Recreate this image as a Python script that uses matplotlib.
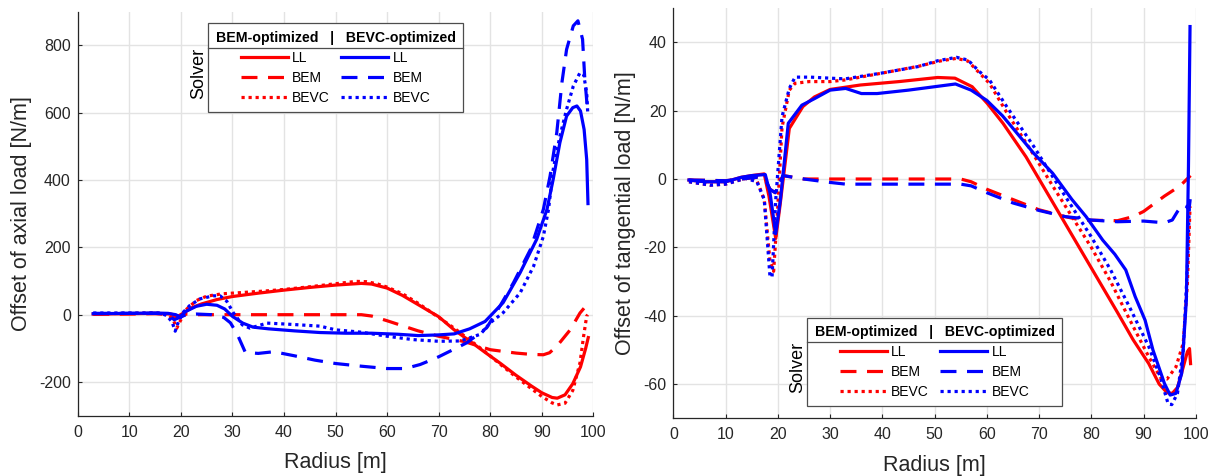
import matplotlib
matplotlib.use('Agg')
import matplotlib.pyplot as plt
from matplotlib.lines import Line2D

plt.rcParams['font.family'] = ['Liberation Sans', 'DejaVu Sans']
plt.rcParams['axes.unicode_minus'] = False

# ---- axial load offset (left panel) ----
ax_r_ll_x = [3, 10, 15, 18, 19.5, 20.5, 22, 24, 27, 30, 35, 40, 45, 50, 55, 57, 60, 63, 66, 70,
             73, 76, 79, 82, 85, 88, 90, 92, 93, 94.5, 96, 97.5, 98.5, 99]
ax_r_ll_y = [2, 3, 4, 2, -4, 5, 20, 32, 45, 54, 64, 73, 81, 88, 93, 91, 79, 57, 30, -6,
             -45, -78, -112, -145, -180, -212, -232, -246, -248, -238, -205, -155, -100, -68]

ax_r_bem_x = [3, 10, 15, 17.5, 19, 20, 21, 23, 30, 40, 50, 55, 57, 60, 63, 66, 70, 75, 80, 85,
              88, 90.3, 91.5, 93, 95.5, 97.4, 98.5, 99]
ax_r_bem_y = [1, 2, 3, 1, -8, -6, 2, 0, 0, 0, 0, 0, -4, -18, -33, -48, -64, -80, -104, -114,
              -118, -119, -113, -92, -45, 5, 25, 28]

ax_r_bevc_x = [3, 10, 15, 17.5, 18.5, 19.2, 20, 21, 23, 25, 28, 32, 36, 40, 45, 50, 54, 56, 58, 60,
               63, 66, 70, 73, 76, 79, 82, 85, 88, 90, 92, 93, 94.5, 96, 97.4, 98.1, 98.7, 98.9]
ax_r_bevc_y = [3, 4, 5, 2, -15, -40, -15, 15, 42, 55, 62, 66, 70, 75, 83, 92, 99, 98, 92, 82,
               62, 34, -8, -40, -75, -110, -148, -185, -220, -243, -262, -268, -263, -225, -143, -64, -4, 0]

ax_b_ll_x = [3, 10, 15, 17.5, 19, 19.8, 21, 23, 25, 27, 28.5, 30, 32, 34, 37, 42, 47, 52, 57, 62,
             66, 70, 73, 76, 79, 82.5, 85.8, 89, 91, 92.2, 93.5, 94.8, 96, 96.8, 97.5, 98.2, 98.7, 98.95]
ax_b_ll_y = [3, 4, 5, 4, 0, -6, 10, 25, 31, 28, 17, -5, -25, -37, -42, -48, -53, -55, -55, -58,
             -62, -60, -57, -42, -20, 36, 125, 224, 313, 402, 511, 590, 615, 620, 605, 550, 461, 330]

ax_b_bem_x = [3, 10, 15, 17.5, 18.7, 19.8, 21, 23, 26, 28.3, 29.6, 30.9, 32.5, 35, 38, 42, 46, 50, 55, 60,
              63.5, 66.4, 68, 70, 72.9, 75.5, 79.3, 81.9, 84.5, 87.8, 90.3, 91.6, 92.9, 93.9, 94.8, 96.1,
              97, 97.9, 98.3, 98.9]
ax_b_bem_y = [4, 4, 4, 2, -15, -8, 0, 2, 0, -8, -24, -57, -112, -115, -110, -122, -135, -145, -153, -160,
              -160, -148, -138, -125, -103, -83, -39, 26, 95, 194, 313, 412, 541, 690, 788, 858,
              873, 818, 709, 600]

ax_b_bevc_x = [3, 10, 16, 17.3, 18.3, 18.9, 19.5, 20.5, 21.7, 23.7, 26.3, 27.6, 28.9, 30.2, 31.9, 33.4,
               36.7, 40.6, 47, 50, 55, 60, 65, 70, 74.2, 78.1, 80, 82.5, 85.8, 88.4, 90.3, 91.3, 92.2,
               93.5, 94.8, 96.1, 97.4, 98.1, 98.7, 98.9]
ax_b_bevc_y = [5, 5, 5, -3, -22, -49, -22, 8, 27, 47, 56, 56, 40, 5, -30, -40,
               -25, -28, -34, -45, -52, -64, -74, -79, -78, -58, -24, 6, 65, 144, 233, 313, 431,
               530, 610, 679, 719, 714, 659, 600]

# ---- tangential load offset (right panel) ----
tg_r_ll_x = [3, 6, 10, 13, 15, 17.4, 18.3, 19.6, 20.4, 22.2, 24.8, 27, 30, 35.8, 43.2, 50.6, 53.9, 57.2,
             60.1, 63.1, 67.5, 70, 75, 80, 85, 88, 91, 93, 94.5, 95.5, 96.5, 97.6, 98.4, 98.8, 99]
tg_r_ll_y = [-0.3, -0.8, -0.8, 0.5, 1, 1.5, -5, -17.4, -8, 14.8, 21.2, 24, 26.2, 27.5, 28.5, 29.7, 29.5, 27,
             22.1, 16.3, 6.5, 0, -13, -26, -39, -47, -54, -60, -62.5, -62.7, -61, -55, -50.5, -49.6, -54]

tg_r_bem_x = [3, 10, 13, 16, 17.5, 18.5, 19.5, 21, 23, 25, 30, 40, 50, 55, 57, 60, 65, 70, 75, 78,
              85, 88, 90, 94, 97, 99]
tg_r_bem_y = [-0.3, -0.5, 0, 0.5, 0, -3, -4, 1, 0.5, 0, 0, 0, 0, 0, -0.8, -3, -6, -9, -11, -12,
              -12.2, -11, -9.5, -5, -2, 1]

tg_r_bevc_x = [3, 7, 10, 13.8, 16, 17.4, 18.5, 19.2, 20, 20.8, 22.2, 23.3, 26, 30, 33, 40, 47, 51, 54.2,
               56.4, 58.6, 60.5, 63.8, 69, 72.6, 76.3, 80, 83.7, 87.3, 91, 93.2, 94.5, 96.2, 97.6, 98.4, 98.9]
tg_r_bevc_y = [-0.8, -1.8, -1.5, 0.2, -0.5, -6, -24, -27, -8, 15, 26, 28, 28.5, 28.5, 29, 31, 33, 34.5, 35.3,
               34.5, 31, 28, 19.5, 7, -2, -11, -20, -30, -41, -52, -58, -58.5, -55, -48, -30.5, -8]

tg_b_ll_x = [3, 6, 10, 13, 15, 17.6, 18.5, 19.6, 20.5, 22, 24.6, 27, 30, 33, 36, 39, 45, 50, 54, 57,
             60, 63, 66, 69, 72.6, 76.3, 79, 82.2, 84.5, 86.6, 88.4, 90.3, 91.8, 94, 95.1, 96.2, 97.3,
             98.2, 98.6, 98.9]
tg_b_ll_y = [-0.3, -0.8, -0.8, 0.5, 1, 1.3, -4, -16, -6, 16.3, 21.6, 23.5, 26, 26.5, 25, 25, 26, 27, 27.8, 26,
             23, 18.5, 13, 7.5, 1.7, -6, -11, -17.9, -22, -26.6, -34.4, -41.3, -50, -59.8, -63.2, -62.7, -56.9,
             -35.4, 3.6, 44.6]

tg_b_bem_x = [3, 10, 13, 16, 17.5, 18.5, 19.5, 21, 23, 25, 30, 33, 40, 50, 55, 57, 60, 65, 70, 75,
              78, 80, 85, 90, 94, 95.5, 96.5, 97.5, 98.2, 98.7, 99]
tg_b_bem_y = [-0.3, -0.5, 0, 0.5, 0, -3, -4, 1, 0.5, 0, -1, -1.5, -1.5, -1.5, -1.5, -2, -4, -7, -9.2, -11,
              -11.5, -12, -12.5, -12.3, -12.8, -12, -9.5, -7.5, -8, -9, -5]

tg_b_bevc_x = [3, 7.1, 10, 13.8, 16, 17.4, 18.5, 18.9, 19.6, 20.8, 22.2, 23.3, 26.3, 30, 32.9, 39.5, 46.9,
               50.6, 54.2, 56.4, 58.6, 60.5, 63.8, 69, 72.6, 76.3, 80, 83.7, 87.3, 91, 93.2, 94.7, 95.4,
               96.5, 97.6, 98.4, 98.8]
tg_b_bevc_y = [-0.8, -1.8, -1.5, 0.2, -0.8, -6, -28.6, -28.6, -6, 18.2, 26.5, 29.8, 29.8, 29.5, 29.3, 30.9, 32.9,
               34.6, 35.6, 34.8, 31.4, 29, 21.2, 9.5, 0.7, -8.1, -16.9, -26.6, -37.4, -49, -57.9, -65.7, -66,
               -62.7, -50, -25.7, -6]

solver_names = ['LL', 'BEM', 'BEVC']
legend_title = 'BEM-optimized   |   BEVC-optimized'

LW = 2.3
styles = {'LL': dict(ls='-'),
          'BEM': dict(ls=(0, (5, 3.3))),
          'BEVC': dict(ls=(0, (1, 1.2)))}
DARK = '0.15'
LEG_FS = 10
LEG_LS = 0.43


def panel(ax, series, ylim, yticks, ylabel):
    for color, name, x, y in series:
        ax.plot(x, y, color=color, lw=LW, **styles[name])
    ax.set_xlim(0, 100)
    ax.set_ylim(*ylim)
    ax.set_xticks(range(0, 101, 10))
    ax.set_yticks(yticks)
    ax.grid(True, color='#e3e3e3', lw=1.0)
    ax.set_axisbelow(True)
    for s in ['top', 'right']:
        ax.spines[s].set_visible(False)
    for s in ['left', 'bottom']:
        ax.spines[s].set_color(DARK)
        ax.spines[s].set_linewidth(0.9)
    ax.tick_params(direction='in', length=3, width=0.8, colors=DARK, labelsize=11.5)
    ax.tick_params(axis='x', pad=6.5)
    ax.tick_params(axis='y', pad=5)
    ax.set_xlabel('Radius [m]', fontsize=15.5, color=DARK, labelpad=9)
    ax.set_ylabel(ylabel, fontsize=15.5, color=DARK, labelpad=5)


def table_legend(ax, loc, anchor):
    handles = []
    for color in ['red', 'blue']:
        for name in solver_names:
            handles.append(Line2D([], [], color=color, lw=LW, **styles[name]))
    labels = solver_names * 2
    leg = ax.legend(handles, labels, ncol=2, title=legend_title, loc=loc,
                    bbox_to_anchor=anchor, borderaxespad=0, fontsize=LEG_FS,
                    title_fontsize=10.2, handlelength=3.4, handletextpad=0.3,
                    columnspacing=0.8, labelspacing=LEG_LS, borderpad=0.52,
                    fancybox=False, framealpha=1, edgecolor='0.3')
    leg.get_title().set_fontweight('bold')
    leg.get_frame().set_linewidth(0.9)
    return leg


fig = plt.figure(figsize=(12.13, 4.76), dpi=100)
ax1 = fig.add_axes([0.0641, 0.1267, 0.4251, 0.8487])
ax2 = fig.add_axes([0.5551, 0.1212, 0.4307, 0.8618])

panel(ax1, [('red', 'LL', ax_r_ll_x, ax_r_ll_y),
            ('red', 'BEM', ax_r_bem_x, ax_r_bem_y),
            ('red', 'BEVC', ax_r_bevc_x, ax_r_bevc_y),
            ('blue', 'LL', ax_b_ll_x, ax_b_ll_y),
            ('blue', 'BEM', ax_b_bem_x, ax_b_bem_y),
            ('blue', 'BEVC', ax_b_bevc_x, ax_b_bevc_y)],
      (-300, 900), range(-200, 801, 200), 'Offset of axial load [N/m]')

panel(ax2, [('red', 'LL', tg_r_ll_x, tg_r_ll_y),
            ('red', 'BEM', tg_r_bem_x, tg_r_bem_y),
            ('red', 'BEVC', tg_r_bevc_x, tg_r_bevc_y),
            ('blue', 'LL', tg_b_ll_x, tg_b_ll_y),
            ('blue', 'BEM', tg_b_bem_x, tg_b_bem_y),
            ('blue', 'BEVC', tg_b_bevc_x, tg_b_bevc_y)],
      (-70, 50), range(-60, 41, 20), 'Offset of tangential load [N/m]')

legs = [table_legend(ax1, 'upper center', (0.5, 0.971)),
        table_legend(ax2, 'lower center', (0.5, 0.03))]

# separator under the legend title and the rotated "Solver" label
fig.canvas.draw()
renderer = fig.canvas.get_renderer()
inv = fig.transFigure.inverted()
gap = LEG_LS * LEG_FS * fig.dpi / 72 / 2
for leg in legs:
    fb = leg.get_frame().get_window_extent(renderer)
    tb = leg.get_title().get_window_extent(renderer)
    ysep = tb.y0 - gap
    (x0, y0), (x1, _) = inv.transform([(fb.x0, ysep), (fb.x1, ysep)])
    fig.add_artist(Line2D([x0, x1], [y0, y0], color='0.3', lw=0.9))
    sx, sy = inv.transform((fb.x0 - 1, ysep))
    fig.text(sx, sy, 'Solver', rotation=90, ha='right', va='top',
             fontsize=13, color='black')

fig.savefig('out.png', dpi=100)
